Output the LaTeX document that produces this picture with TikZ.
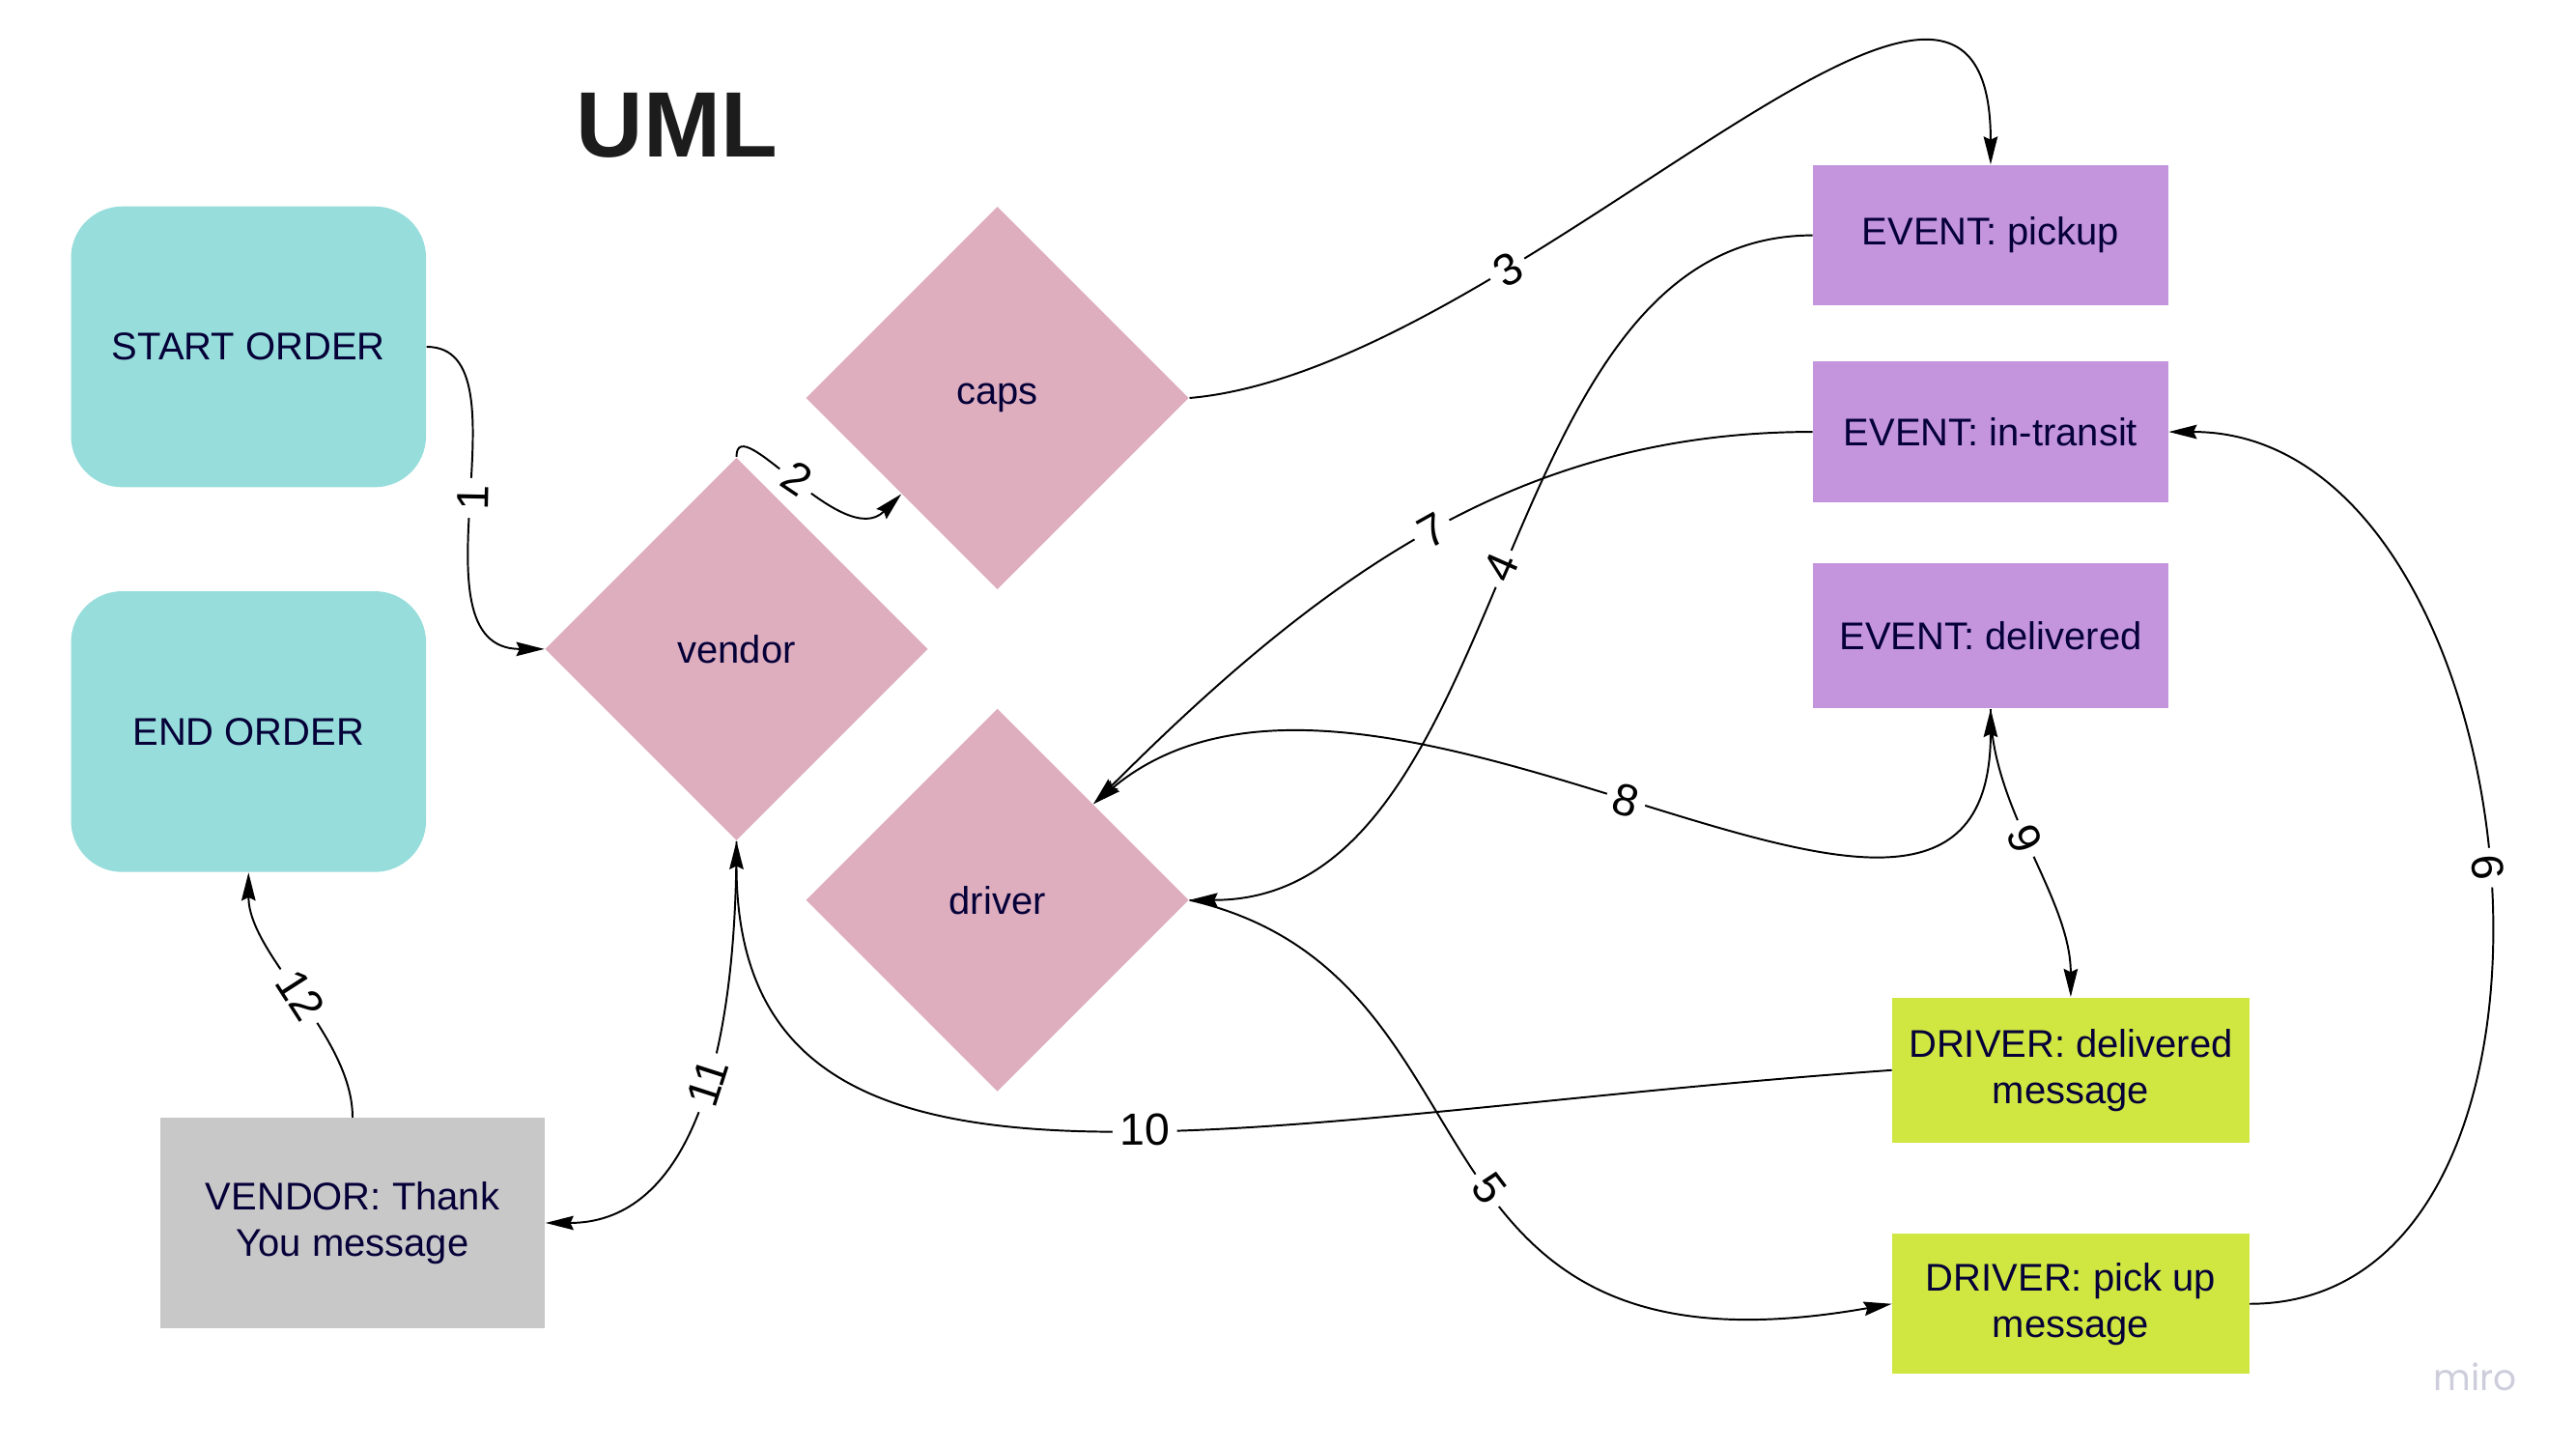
\documentclass[tikz,border=0pt]{standalone}
\usepackage{fontspec}
\setmainfont{Liberation Sans}
\newfontfamily\mirofont{Poppins}
\usetikzlibrary{shapes.geometric,arrows.meta}
\pgfdeclarelayer{edgelayer}
\pgfdeclarelayer{nodelayer}
\pgfsetlayers{edgelayer,nodelayer,main}
\definecolor{ink}{RGB}{5,0,56}
\definecolor{tealfill}{RGB}{150,221,219}
\definecolor{pinkfill}{RGB}{222,174,191}
\definecolor{purplefill}{RGB}{196,149,221}
\definecolor{limefill}{RGB}{208,231,66}
\definecolor{grayfill}{RGB}{200,200,200}
\definecolor{markgray}{RGB}{205,205,220}
\tikzset{font=\fontsize{13.3}{16}\selectfont}
\tikzstyle{title}=[inner sep=0pt, text={rgb,255:red,28;green,28;blue,28}, font=\fontsize{32}{38}\selectfont\bfseries]
\tikzstyle{startend}=[rectangle, rounded corners=0.62cm, fill=tealfill, text=ink, minimum width=4.3cm, minimum height=3.4cm, inner sep=0pt]
\tikzstyle{decision}=[diamond, aspect=1, fill=pinkfill, text=ink, minimum width=4.64cm, minimum height=4.64cm, inner sep=0pt]
\tikzstyle{eventbox}=[rectangle, fill=purplefill, text=ink, minimum width=4.3cm, minimum height=1.7cm, inner sep=0pt]
\tikzstyle{driverbox}=[rectangle, fill=limefill, text=ink, align=center, minimum width=4.32cm, minimum height=1.76cm, inner sep=0pt]
\tikzstyle{vendorbox}=[rectangle, fill=grayfill, text=ink, align=center, minimum width=4.66cm, minimum height=2.54cm, inner sep=0pt]
\tikzstyle{watermark}=[inner sep=0pt, text=markgray, font=\fontsize{12.5}{15}\mirofont]
\tikzstyle{flow}=[line width=0.65pt, -{Stealth[length=3.4mm, width=1.7mm, inset=0.4mm]}]
\tikzstyle{flowboth}=[line width=0.65pt, {Stealth[length=3.4mm, width=1.7mm, inset=0.4mm]}-{Stealth[length=3.4mm, width=1.7mm, inset=0.4mm]}]
\tikzstyle{lbl}=[fill=white, inner sep=2.5pt, sloped, text=black, font=\fontsize{15.5}{18}\selectfont]

\begin{document}
\begin{tikzpicture}
	\useasboundingbox (0, 0) rectangle (31.2, 17.54);
	\begin{pgfonlayer}{nodelayer}
		\node [style=title] (uml) at (8.2, 16.02) {UML};
		\node [style=startend] (startorder) at (3.01, 13.34) {START ORDER};
		\node [style=startend] (endorder) at (3.01, 8.68) {END ORDER};
		\node [style=vendorbox] (thanks) at (4.27, 2.73) {VENDOR: Thank\\You message};
		\node [style=decision] (caps) at (12.08, 12.72) {caps};
		\node [style=decision] (vendor) at (8.92, 9.68) {vendor};
		\node [style=decision] (driver) at (12.08, 6.64) {driver};
		\node [style=eventbox] (pickup) at (24.11, 14.69) {EVENT: pickup};
		\node [style=eventbox] (intransit) at (24.11, 12.31) {EVENT: in-transit};
		\node [style=eventbox, minimum height=1.76cm] (delivered) at (24.11, 9.84) {EVENT: delivered};
		\node [style=driverbox] (delivmsg) at (25.08, 4.58) {DRIVER: delivered\\message};
		\node [style=driverbox, minimum height=1.7cm] (pickmsg) at (25.08, 1.75) {DRIVER: pick up\\message};
		\node [style=watermark] (miro) at (29.98, 0.87) {miro};
	\end{pgfonlayer}
	\begin{pgfonlayer}{edgelayer}
		\draw [style=flow, out=0, in=180, out distance=1.3cm, in distance=1.7cm] (startorder.east) to node[style=lbl] {1} (vendor.west);
		\draw [style=flow, out=90, in=-135, out distance=0.6cm, in distance=1cm] (vendor.north) to node[style=lbl] {2} (caps.south west);
		\draw [style=flow, out=5, in=90, out distance=4cm, in distance=4.2cm] (caps.east) to node[style=lbl, pos=0.3] {3} (pickup.north);
		\draw [style=flow, out=180, in=0, out distance=4cm, in distance=4cm] (pickup.west) to node[style=lbl] {4} (driver.east);
		\draw [style=flow, out=-13, in=190, out distance=4.1cm, in distance=6.3cm] (driver.east) to node[style=lbl, pos=0.54] {5} (pickmsg.west);
		\draw [style=flow, out=0, in=0, out distance=4.5cm, in distance=4.5cm] (pickmsg.east) to node[style=lbl] {6} (intransit.east);
		\draw [style=flow, out=180, in=45, out distance=3.5cm, in distance=4cm] (intransit.west) to node[style=lbl] {7} (driver.north east);
		\draw [style=flowboth, out=40, in=-90, out distance=4.5cm, in distance=4.5cm] (driver.north east) to node[style=lbl, pos=0.48] {8} (delivered.south);
		\draw [style=flow, out=-90, in=90, out distance=1.2cm, in distance=1.2cm] (delivered.south) to node[style=lbl, pos=0.45] {9} (delivmsg.north);
		\draw [style=flow, out=184, in=-90, out distance=8cm, in distance=5cm] (delivmsg.west) to node[style=lbl, pos=0.44] {10} (vendor.south);
		\draw [style=flow, out=-90, in=0, out distance=3cm, in distance=1.6cm] (vendor.south) to node[style=lbl, pos=0.4] {11} (thanks.east);
		\draw [style=flow, out=90, in=-90, out distance=1cm, in distance=1cm] (thanks.north) to node[style=lbl] {12} (endorder.south);
	\end{pgfonlayer}
\end{tikzpicture}
\end{document}
